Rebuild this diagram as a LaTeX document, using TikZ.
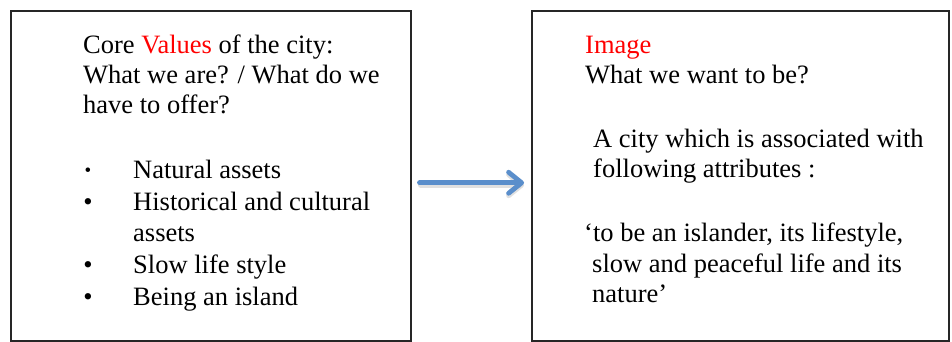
\documentclass[tikz,border=0pt]{standalone}
\usepackage{fontspec}
\setmainfont{Liberation Serif}
\usetikzlibrary{arrows.meta}
\definecolor{flowblue}{HTML}{5A8ECB}
\definecolor{hot}{HTML}{FF0000}
\tikzset{
  panel/.style={draw=black!85, line width=1.5pt, fill=white},
  txt/.style={anchor=base west, inner sep=0pt,
              font=\fontsize{26.5}{31}\selectfont},
  dot/.style={anchor=base, inner sep=0pt, font=\fontsize{26.5}{31}\selectfont},
  flow/.style={draw=flowblue, line width=4.8pt, line cap=round,
               -{Straight Barb[length=13pt,width=21pt,line cap=round,line join=round]}}
}
\begin{document}
\begin{tikzpicture}[x=1pt,y=-1pt]
\useasboundingbox (0,0) rectangle (952,341);

% the two panels
\node[panel, minimum width=400pt, minimum height=330pt, anchor=north west] (values) at (10,10) {};
\node[panel, minimum width=417pt, minimum height=330pt, anchor=north west] (image) at (531,10) {};

% left panel: core values
\node[txt] (v1) at (83,53) {Core \textcolor{hot}{Values} of the city:};
\node[txt] (v2) at (83,83) {What we are? / What do we};
\node[txt] (v3) at (83,113) {have to offer?};
\node[dot, font=\fontsize{19}{19}\selectfont] (b1) at (88,176) {•};
\node[dot] (b2) at (88,210) {•};
\node[dot] (b3) at (88,273) {•};
\node[dot] (b4) at (88,305) {•};
\node[txt] (i1) at (133,178) {Natural assets};
\node[txt] (i2a) at (133,210) {Historical and cultural};
\node[txt] (i2b) at (133,241) {assets};
\node[txt] (i3) at (133,273) {Slow life style};
\node[txt] (i4) at (133,305) {Being an island};

% right panel: image
\node[txt] (h1) at (585,53) {\textcolor{hot}{Image}};
\node[txt] (h2) at (585,83) {What we want to be?};
\node[txt] (a1) at (593,147) {A city which is associated with};
\node[txt] (a2) at (593,177) {following attributes :};
\node[txt] (q1) at (584,241) {‘to be an islander, its lifestyle,};
\node[txt] (q2) at (592,272) {slow and peaceful life and its};
\node[txt] (q3) at (592,302) {nature’};

% connector with a soft shadow
\draw[flow, draw=black, opacity=0.12, shorten <=9pt, shorten >=7pt]
  ([yshift=-9.5pt]values.east) -- ([yshift=-9.5pt]image.west);
\draw[flow, shorten <=8pt, shorten >=7pt]
  ([yshift=-7pt]values.east) -- ([yshift=-7pt]image.west);
\end{tikzpicture}
\end{document}
